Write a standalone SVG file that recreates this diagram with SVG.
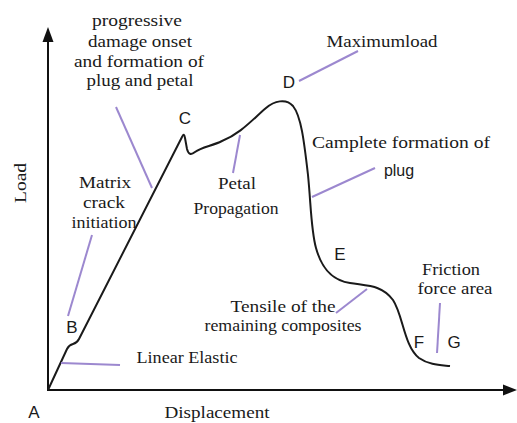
<svg xmlns="http://www.w3.org/2000/svg" width="517" height="423" viewBox="0 0 517 423">
<style>
.ser{font-family:"Liberation Serif","Times New Roman",serif;font-size:16px;fill:#1a1a1a;text-anchor:middle}
.san{font-family:"Liberation Sans",Arial,sans-serif;font-size:17px;fill:#1a1a1a;text-anchor:middle}
.ax{stroke:#111;stroke-width:2;fill:none}
.cv{stroke:#1a1a1a;stroke-width:2;fill:none;stroke-linejoin:round}
.ld{stroke:#9c88cf;stroke-width:2;fill:none}
</style>
<rect width="517" height="423" fill="#fff"/>
<g id="axes">
<line class="ax" x1="48" y1="391" x2="48" y2="40"/>
<polygon points="48,27 42.5,42 53.5,42" fill="#111"/>
<line class="ax" x1="47" y1="390" x2="505" y2="390"/>
<polygon points="517,390 503,384.5 503,395.5" fill="#111"/>
<text class="ser" x="0" y="0" transform="translate(26,183) rotate(-90)" textLength="40" lengthAdjust="spacingAndGlyphs">Load</text>
<text class="ser" x="217" y="418" textLength="105" lengthAdjust="spacingAndGlyphs">Displacement</text>
</g>
<g id="curve">
<path class="cv" d="M48,390 L67,349 Q69,345 73,344 Q77,343 79,339 L182,137 Q184,132 185,138 L187,149 Q189,157 195,152 C202,147 212,146 222,141 C240,134 252,120 266,108 C274,101 286,98 293,106 C301,116 304,140 308,175 C311,205 311,230 316,248 C321,266 330,280 350,283 C368,286 382,285 393,300 C403,315 404,346 419,358 C429,365 440,365 450,366"/>
</g>
<g id="connectors">
<line class="ld" x1="61" y1="363" x2="120" y2="365"/>
<line class="ld" x1="68" y1="316" x2="92" y2="235"/>
<line class="ld" x1="116" y1="107" x2="152" y2="188"/>
<line class="ld" x1="240" y1="135" x2="233" y2="173"/>
<line class="ld" x1="299" y1="81" x2="358" y2="51"/>
<line class="ld" x1="312" y1="197" x2="375" y2="168"/>
<line class="ld" x1="336" y1="313" x2="367" y2="289"/>
<line class="ld" x1="440" y1="303" x2="437" y2="353"/>
</g>
<g id="A"><text class="san" x="34" y="418">A</text></g>
<g id="B"><text class="san" x="72" y="333">B</text></g>
<g id="C"><text class="san" x="185" y="124">C</text></g>
<g id="D"><text class="san" x="289" y="88">D</text></g>
<g id="E"><text class="san" x="340" y="260">E</text></g>
<g id="F"><text class="san" x="419" y="348">F</text></g>
<g id="G"><text class="san" x="454" y="348">G</text></g>
<g id="lbl-progressive">
<text class="ser" x="137" y="26" textLength="90" lengthAdjust="spacingAndGlyphs">progressive</text>
<text class="ser" x="140" y="47" textLength="104" lengthAdjust="spacingAndGlyphs">damage onset</text>
<text class="ser" x="139" y="67" textLength="130" lengthAdjust="spacingAndGlyphs">and formation of</text>
<text class="ser" x="140" y="86" textLength="107" lengthAdjust="spacingAndGlyphs">plug and petal</text>
</g>
<g id="lbl-matrix">
<text class="ser" x="105" y="188" textLength="52" lengthAdjust="spacingAndGlyphs">Matrix</text>
<text class="ser" x="104" y="208" textLength="42" lengthAdjust="spacingAndGlyphs">crack</text>
<text class="ser" x="104" y="228" textLength="65" lengthAdjust="spacingAndGlyphs">initiation</text>
</g>
<g id="lbl-petal">
<text class="ser" x="237" y="189" textLength="38" lengthAdjust="spacingAndGlyphs">Petal</text>
<text class="ser" x="236" y="214" textLength="85" lengthAdjust="spacingAndGlyphs">Propagation</text>
</g>
<g id="lbl-max"><text class="ser" x="382" y="47" textLength="111" lengthAdjust="spacingAndGlyphs">Maximumload</text></g>
<g id="lbl-camplete">
<text class="ser" x="401" y="148" textLength="178" lengthAdjust="spacingAndGlyphs">Camplete  formation of</text>
<text class="san" x="399" y="176" style="font-size:16px">plug</text>
</g>
<g id="lbl-linear"><text class="ser" x="187" y="363" textLength="101" lengthAdjust="spacingAndGlyphs">Linear Elastic</text></g>
<g id="lbl-tensile">
<text class="ser" x="283" y="312" textLength="105" lengthAdjust="spacingAndGlyphs">Tensile of the</text>
<text class="ser" x="283" y="331" textLength="157" lengthAdjust="spacingAndGlyphs">remaining composites</text>
</g>
<g id="lbl-friction">
<text class="ser" x="451" y="275" textLength="58" lengthAdjust="spacingAndGlyphs">Friction</text>
<text class="ser" x="455" y="294" textLength="75" lengthAdjust="spacingAndGlyphs">force area</text>
</g>
</svg>
